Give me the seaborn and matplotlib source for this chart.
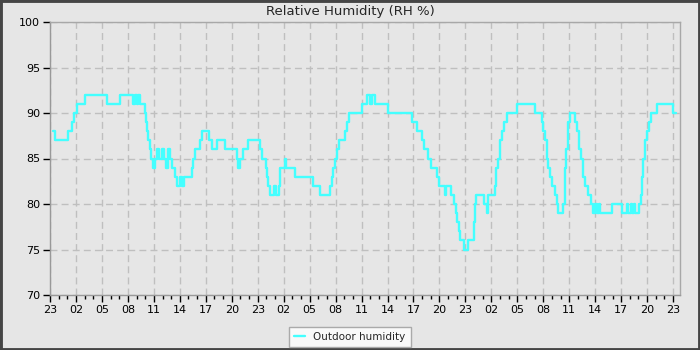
import matplotlib
matplotlib.use("Agg")
import matplotlib.pyplot as plt
import seaborn as sns
import pandas as pd
from matplotlib.patches import Rectangle
from matplotlib.lines import Line2D
from matplotlib.ticker import MultipleLocator, FuncFormatter

# hours since 23:00 on the first day
hours = [0.35, 0.58, 2.08, 2.54, 2.77, 3.12, 4.04, 6.59, 8.09, 9.59, 9.8, 10.0, 10.2, 10.4,
         10.98, 11.09, 11.2, 11.32, 11.56, 11.67, 11.9, 12.13, 12.36, 12.6, 12.94, 13.2, 13.4,
         13.64, 13.87, 14.1, 14.44, 14.68, 15.0, 15.2, 15.48, 16.41, 16.52, 16.76, 17.33, 17.56,
         18.37, 18.72, 19.3, 20.22, 21.61, 21.75, 21.95, 22.3, 22.88, 24.27, 24.5, 24.96, 25.1,
         25.2, 25.42, 25.9, 26.1, 26.46, 26.58, 27.15, 27.27, 28.31, 30.39, 31.2, 32.35, 32.59,
         32.7, 32.93, 33.16, 33.4, 34.09, 34.32, 34.55, 36.05, 36.63, 36.98, 37.21, 37.56, 39.06,
         41.83, 42.41, 42.99, 43.22, 43.68, 44.03, 44.72, 44.95, 45.64, 45.76, 46.34, 46.68,
         46.92, 47.0, 47.26, 47.38, 47.84, 48.31, 49.0, 49.11, 49.23, 50.16, 50.5, 50.62, 51.42,
         51.54, 51.77, 52.0, 52.23, 52.46, 52.81, 53.96, 56.04, 56.85, 56.97, 57.2, 57.43, 57.55,
         57.78, 58.0, 58.35, 58.59, 58.7, 59.28, 59.51, 59.63, 59.86, 60.09, 60.67, 60.9, 61.13,
         61.36, 61.59, 61.82, 62.17, 62.52, 62.75, 63.0, 63.2, 63.44, 63.6, 64.94, 66.1, 66.68,
         66.79, 67.14, 67.25, 67.48, 67.6, 68.07, 68.3, 68.42, 68.53, 68.76, 68.99, 69.22, 69.45,
         70.14, 71.99, 72.34]
humidity = [88, 87, 88, 89, 90, 91, 92, 91, 92, 91, 92, 91, 92, 91,
            90, 89, 88, 87, 86, 85, 84, 85, 86, 85, 86, 85, 84,
            86, 85, 84, 83, 82, 83, 82, 83, 84, 85, 86, 87, 88,
            87, 86, 87, 86, 85, 84, 85, 86, 87, 86, 85, 84, 83,
            82, 81, 82, 81, 82, 84, 85, 84, 83, 82, 81, 82, 83,
            84, 85, 86, 87, 88, 89, 90, 91, 92, 91, 92, 91, 90,
            89, 88, 87, 86, 85, 84, 83, 82, 81, 82, 81, 80,
            79, 78, 77, 76, 75, 76, 78, 80, 81, 80, 79, 81, 82,
            84, 85, 87, 88, 89, 90, 91, 90, 89, 88, 87, 85, 84,
            83, 82, 81, 80, 79, 80, 84, 86, 89, 90, 89, 88, 86,
            85, 83, 82, 81, 80, 79, 80, 79, 80, 79, 80, 79, 80,
            79, 80, 79, 80, 79, 80, 81, 83, 85, 87, 88, 89, 90,
            91, 90, 90]
start_hour = 23
series_name = "Outdoor humidity"
title = "Relative Humidity (RH %)"

df = pd.DataFrame({"hours": hours, "humidity": humidity, "series": series_name})

sns.set_style("white")
plt.rcParams["font.family"] = ["DejaVu Sans"]

bg = "#e6e6e6"
fig = plt.figure(figsize=(7, 3.5), dpi=100, facecolor=bg)
ax = fig.add_axes([50/700, 1-295/350, 630/700, 273/350])
ax.set_facecolor(bg)

sns.lineplot(data=df, x="hours", y="humidity", hue="series", palette=["#44ffff"],
             drawstyle="steps-post", linewidth=1.7, estimator=None, sort=False,
             ax=ax, legend=False)

ax.set_xlim(0, 72.8)
ax.set_ylim(70, 100)
ax.xaxis.set_major_locator(MultipleLocator(3))
ax.xaxis.set_minor_locator(MultipleLocator(1))
ax.xaxis.set_major_formatter(FuncFormatter(lambda v, p: f"{int(round(start_hour + v)) % 24:02d}"))
ax.yaxis.set_major_locator(MultipleLocator(5))
ax.grid(True, which="major", color="#bfbfbf", linestyle=(0, (5, 3)), linewidth=1)
ax.set_axisbelow(True)
ax.set_xlabel("")
ax.set_ylabel("")
ax.tick_params(axis="both", which="major", length=5, width=1, color="black",
               labelsize=8, labelcolor="black", bottom=True, left=True, pad=2)
ax.tick_params(axis="x", which="minor", length=3, width=1, color="black", bottom=True)
for s in ax.spines.values():
    s.set_color("#a8a8a8")
    s.set_linewidth(1)
ax.spines["left"].set_color("#999999")
ax.spines["bottom"].set_color("#999999")

fig.text(0.5, 1-11/350, title, ha="center", va="center", fontsize=9.5)

h = Line2D([], [], color="#44ffff", linewidth=1.7)
leg = fig.legend([h], [series_name], loc="center", bbox_to_anchor=(350/700, 1-337/350),
                 fontsize=7.5, frameon=True, fancybox=False, handlelength=1.0,
                 borderpad=0.5, handletextpad=0.8)
leg.get_frame().set_facecolor("white")
leg.get_frame().set_edgecolor("#999999")
leg.get_frame().set_linewidth(1)

fig.patches.append(Rectangle((0, 0), 1, 1, transform=fig.transFigure, fill=False,
                             edgecolor="#454545", linewidth=3.5))

fig.savefig("out.png", dpi=100, facecolor=bg)
